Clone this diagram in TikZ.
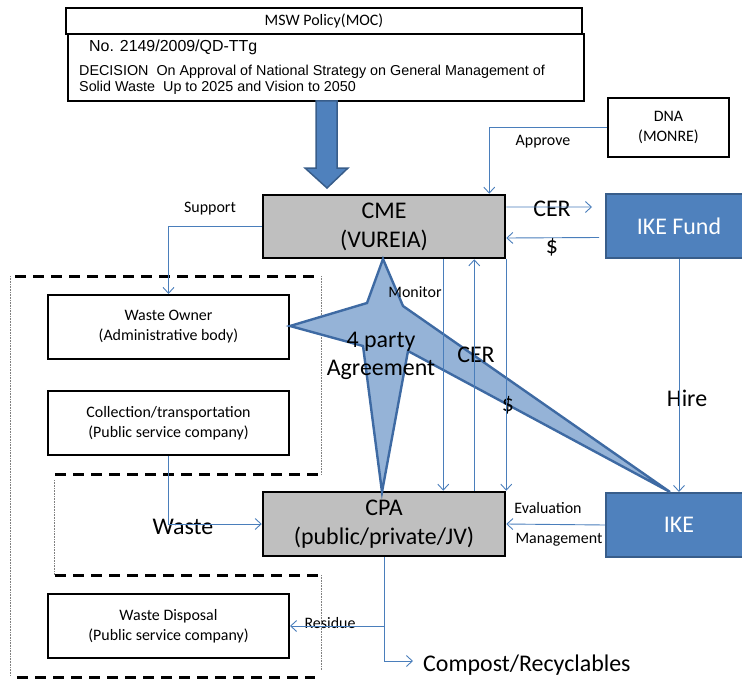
\documentclass[tikz,border=0pt]{standalone}
\usepackage{fontspec}
\setmainfont{Carlito}
\newfontfamily\arialfont{Liberation Sans}
\usepackage{tikz}
\definecolor{ln}{RGB}{74, 126, 187}
\definecolor{bf}{RGB}{79, 129, 189}
\definecolor{bd}{RGB}{56, 93, 138}
\definecolor{sf}{RGB}{149, 179, 215}
\definecolor{sb}{RGB}{62, 106, 163}
\definecolor{gf}{RGB}{191, 191, 191}
\usetikzlibrary{positioning,arrows.meta}
\def\boxw{241bp}
\def\boxh{64bp}
\newcommand{\twobox}[5]{\node[#1] (#2) at (#3) {#4\\#5};}

\begin{document}
\begin{tikzpicture}[x=1bp,y=-1bp,>={Straight Barb[length=6bp,width=11bp]},
	wb/.style={draw,line width=2bp,fill=white,minimum width=\boxw,minimum height=\boxh,align=center,font=\fontsize{16}{20}\selectfont},
	gb/.style={draw,line width=2.5bp,fill=gf,minimum width=242bp,minimum height=63bp,align=center,font=\fontsize{24}{29}\selectfont},
	bb/.style={draw=bd,line width=2bp,fill=bf,text=white,minimum width=146bp,minimum height=\boxh,font=\fontsize{24}{30}\selectfont},
	fl/.style={->,color=ln,line width=0.9bp},
	sm/.style={inner sep=0pt,font=\fontsize{16}{19}\selectfont},
	lg/.style={inner sep=0pt,font=\fontsize{24}{28}\selectfont},
	dsh/.style={line width=3bp,dash pattern=on 11bp off 7bp},
	dotl/.style={gray,line width=0.6bp,densely dotted}]
				\useasboundingbox (0,0) rectangle (742,680);

				\draw[dsh] (15,276) -- (320,276);
				\draw[dotl] (10,276) -- (10,676);
				\draw[dotl] (321,276) -- (321,474);
				\draw[dsh] (55,474) -- (320,474);
				\draw[dotl] (54,480) -- (54,575);
				\draw[dsh] (55,575) -- (320,575);
				\draw[dotl] (321,575) -- (321,670);
				\draw[dsh] (17,677) -- (315,677);

				\node[draw,line width=2bp,minimum width=516bp,minimum height=26bp,inner sep=0pt,font=\fontsize{16}{19}\selectfont] (msw) at (324,21) {MSW Policy(MOC)};
				\node[draw,line width=2bp,minimum width=516bp,minimum height=67bp] (dec) at (326,67.5) {};
				\node[anchor=west,inner sep=0pt,font=\arialfont\fontsize{16}{18}\selectfont] (decno) at (89,47) {No. 2149/2009/QD-TTg};
				\node[anchor=west,inner sep=0pt,align=left,font=\arialfont\fontsize{14.4}{16.5}\selectfont] (dectx) at (79,80) {DECISION\ \ On Approval of National Strategy on General Management of\\Solid Waste\ \ Up to 2025 and Vision to 2050};
				\draw[draw=bd,line width=1.5bp,fill=bf] (316,101) -- (337,101) -- (337,168) -- (348,168) -- (327,188) -- (305,168) -- (316,168) -- cycle;

				\twobox{gb}{cme}{384,226.5}{CME}{(VUREIA)}
				\twobox{gb,minimum height=\boxh}{cpa}{384,524}{CPA}{(public/private/JV)}
				\twobox{wb,minimum width=121bp,minimum height=59bp}{dna}{668.5,127.5}{DNA}{(MONRE)}
				\node[bb] (ikef) at (679,226) {IKE Fund};
				\node[bb] (ike) at (679,525) {IKE};
				\twobox{wb}{own}{168.5,327}{Waste Owner}{(Administrative body)}
				\twobox{wb}{coll}{168.5,423}{Collection/transportation}{(Public service company)}
				\twobox{wb}{disp}{168.5,626}{Waste Disposal}{(Public service company)}

				\draw[draw=sb,line width=2.4bp,fill=sf] (383,259) -- (403,306) -- (670,492) -- (408,351) -- (382,492) -- (363,346) -- (290,326) -- (367,303) -- cycle;
				\node[lg,align=center] (agr) at (381,356) {4 party\\Agreement};

				\node[sm] (lsup) at (210,209) {Support};
				\node[sm] (lapp) at (543,142) {Approve};
				\node[lg] (lcer) at (552,209) {CER};
				\node[lg] (lusd) at (552,247) {\$};
				\node[sm] (lmon) at (415,292) {Monitor};
				\node[lg] (lcer2) at (476,355) {CER};
				\node[lg] (lusd2) at (508,405) {\$};
				\node[lg] (lhire) at (687,398) {Hire};
				\node[sm] (leva) at (548,508) {Evaluation};
				\node[sm] (lman) at (559,540) {Management};
				\node[lg] (lwaste) at (183,527) {Waste};
				\node[sm] (lres) at (330,623) {Residue};
				\node[lg,anchor=west] (comp) at (423,665) {Compost/Recyclables};

				\draw[fl] (dna.west) -| ([xshift=-17bp]cme.north east);
				\draw[fl] ([yshift=19.5bp]cme.east) -- ([yshift=19bp,xshift=-13bp]ikef.west);
				\draw[fl] ([yshift=-11.5bp,xshift=-6bp]ikef.west) -- ([yshift=-11.5bp]cme.east);
				\draw[fl] (cme.west) -| (own.north);
				\draw[fl] ([xshift=-63bp]cme.south east) -- ([xshift=-63bp]cpa.north east);
				\draw[fl] ([xshift=-32bp]cpa.north east) -- ([xshift=-32bp]cme.south east);
				\draw[fl] (cme.south east) -- (cpa.north east);
				\draw[fl] (ikef.south) -- (ike.north);
				\draw[fl] (ike.west) -- (cpa.east);
				\draw[fl] (coll.south) |- (cpa.west);
				\draw[fl] (cpa.south) |- (disp.east);
				\draw[fl] (cpa.south) |- ([xshift=-10bp,yshift=4bp]comp.west);
			\end{tikzpicture}
\end{document}
